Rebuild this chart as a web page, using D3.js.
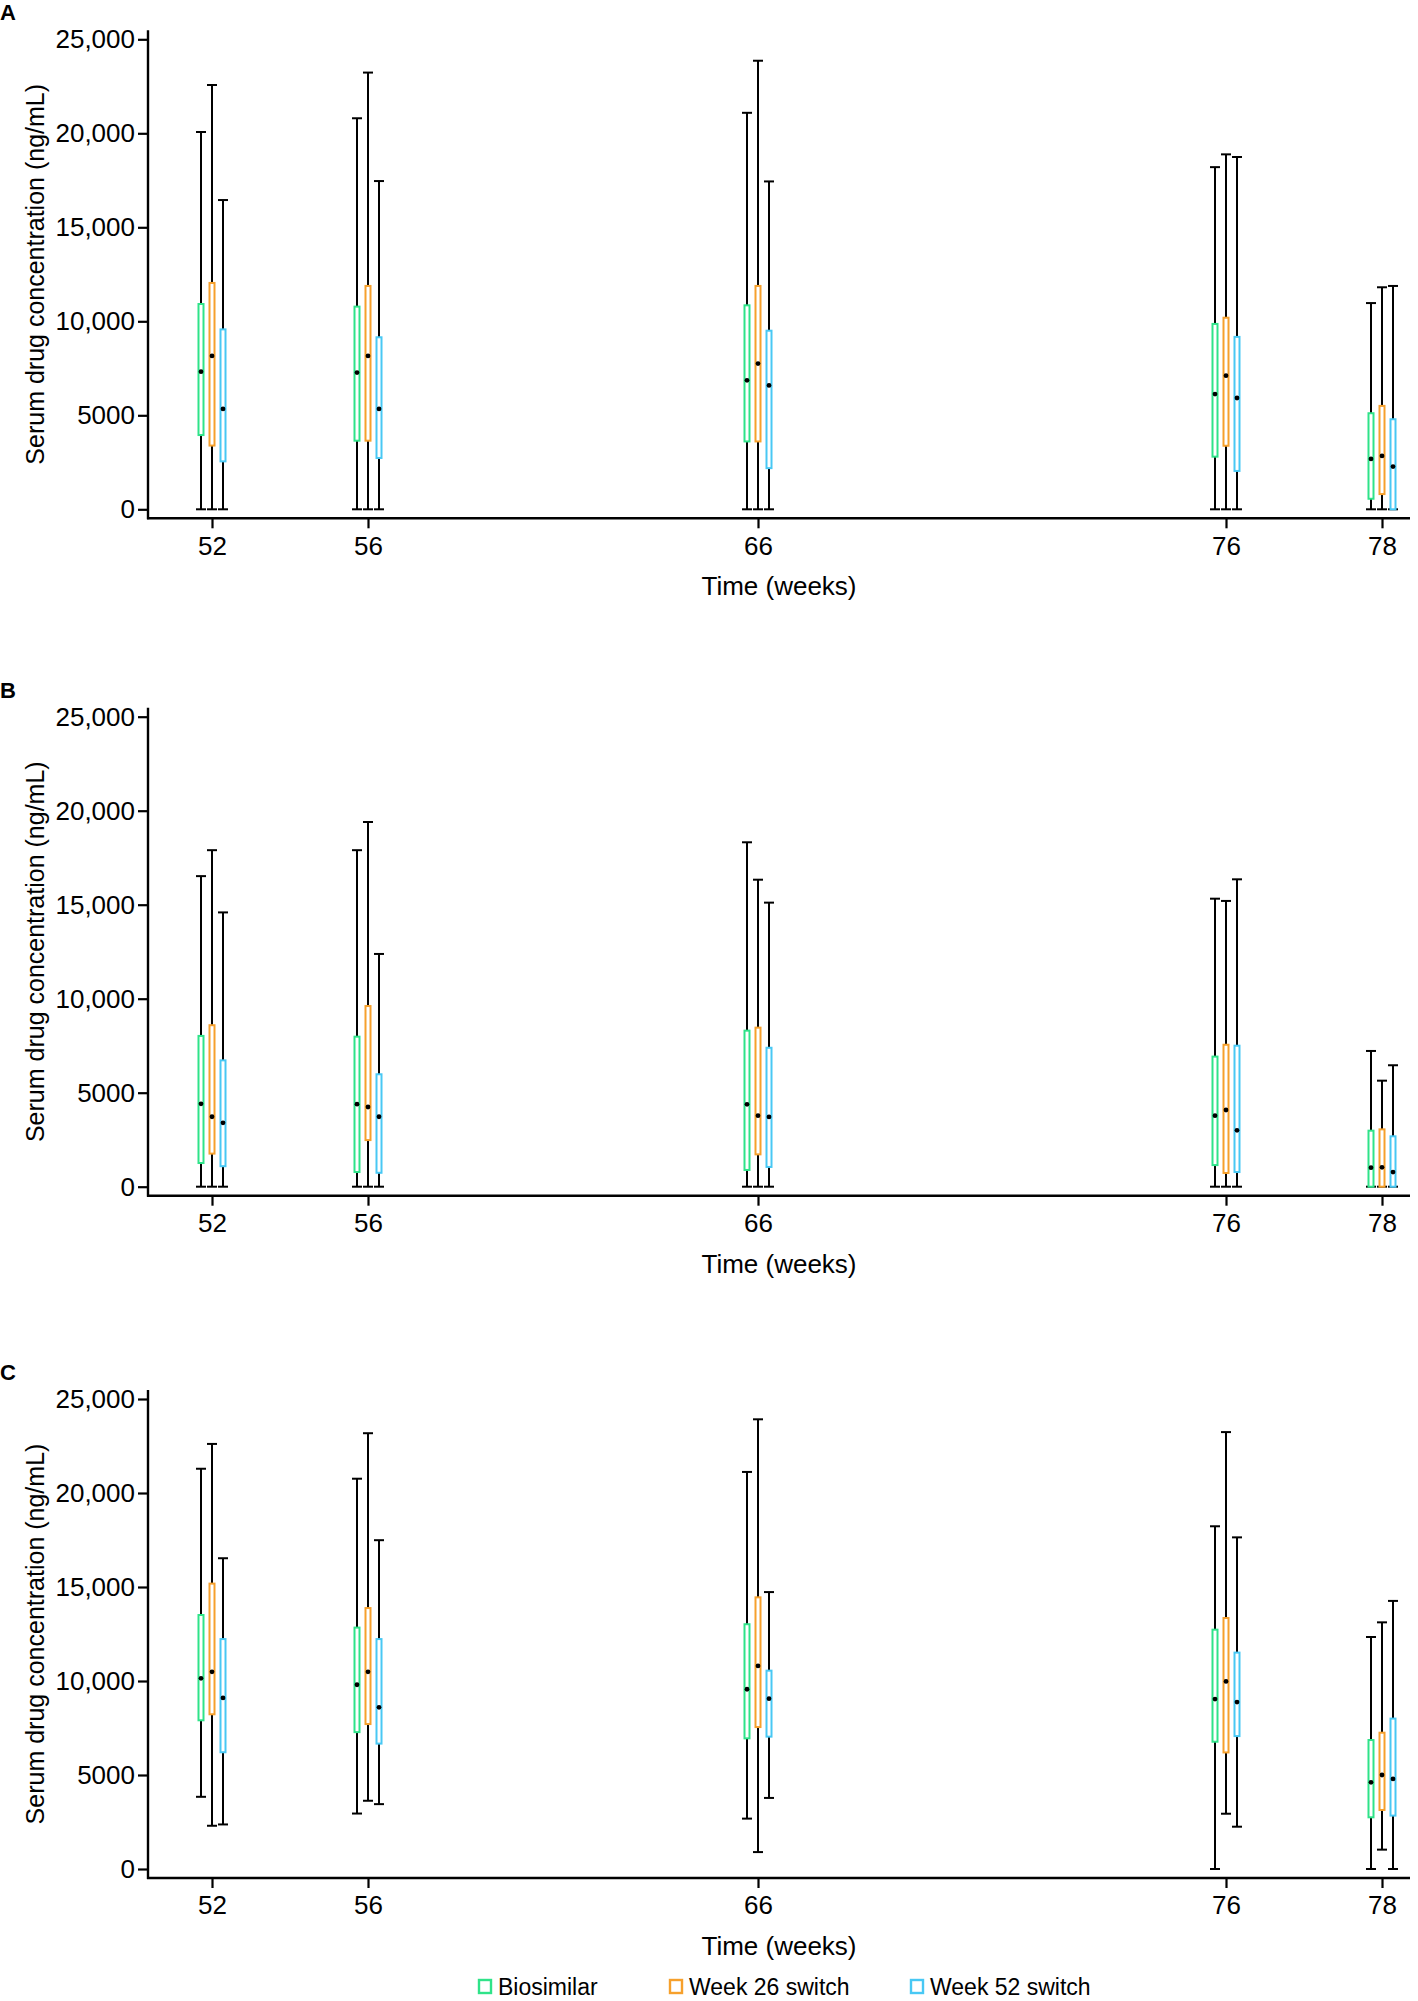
<!DOCTYPE html>
<html><head><meta charset="utf-8">
<script src="https://cdn.jsdelivr.net/npm/d3@7"></script>
<style>
body{margin:0;background:#fff}
svg{display:block}
text{font-family:"Liberation Sans",Arial,Helvetica,sans-serif;fill:#000}
</style>
</head><body>
<svg id="chart" width="1418" height="2001"></svg>
<script>
// ---------- data ----------
const weeks = [52, 56, 66, 76, 78];
const seriesNames = ["Biosimilar", "Week 26 switch", "Week 52 switch"];
const seriesColors = ["#2fe389", "#f6a02c", "#48c8f4"];
const yTicks = [0, 5000, 10000, 15000, 20000, 25000];
const panelLabels = ["A", "B", "C"];

// each entry per week: [min, Q1, median, Q3, max]  (ng/mL)
const A_biosimilar = [[0,3950,7320,10920,20070],[0,3650,7270,10780,20800],[0,3610,6860,10850,21090],[0,2800,6130,9860,18200],[0,560,2680,5110,10970]];
const A_week26     = [[0,3390,8160,12040,22570],[0,3650,8160,11880,23230],[0,3610,7750,11880,23860],[0,3380,7110,10190,18880],[0,810,2840,5500,11810]];
const A_week52     = [[0,2550,5340,9570,16450],[0,2730,5340,9150,17460],[0,2190,6590,9500,17440],[0,2040,5920,9170,18740],[0,0,2270,4790,11880]];

const B_biosimilar = [[0,1260,4410,8020,16520],[0,780,4390,7980,17900],[0,890,4380,8300,18320],[0,1150,3780,6920,15320],[0,0,1010,2980,7220]];
const B_week26     = [[0,1760,3720,8590,17900],[0,2480,4240,9610,19400],[0,1720,3780,8460,16330],[0,730,4080,7550,15200],[0,0,1030,3050,5640]];
const B_week52     = [[0,1090,3400,6720,14590],[0,740,3720,5980,12380],[0,1050,3710,7390,15110],[0,780,3000,7500,16350],[0,0,780,2680,6460]];

const C_biosimilar = [[3840,7910,10140,13510,21290],[2950,7280,9800,12840,20760],[2680,6950,9560,13020,21120],[0,6770,9040,12730,18230],[0,2750,4610,6860,12340]];
const C_week26     = [[2300,8230,10490,15180,22610],[3630,7710,10490,13880,23180],[900,7550,10800,14450,23920],[2940,6200,9980,13350,23240],[1030,3140,5000,7250,13120]];
const C_week52     = [[2370,6210,9100,12230,16530],[3450,6670,8600,12230,17490],[3780,7040,9060,10550,14730],[2250,7070,8880,11510,17640],[0,2840,4790,8000,14260]];

const panelData = [
  [A_biosimilar, A_week26, A_week52],
  [B_biosimilar, B_week26, B_week52],
  [C_biosimilar, C_week26, C_week52]
];

// ---------- layout ----------
const svg = d3.select("#chart");
const axisX = 148, axisRight = 1410;
const zeroY = [509.3, 1186.7, 1869];
const plotH = 470;

const x = d3.scaleLinear().domain(weeks).range([212, 368, 758, 1226, 1382]);
const off = d3.scalePoint().domain(seriesNames).range([-11, 11]);
const fmt = d => d >= 10000 ? d3.format(",")(d) : String(d);

panelData.forEach((groups, pi) => {
  const y0 = zeroY[pi];
  const y = d3.scaleLinear().domain([0, 25000]).range([y0, y0 - plotH]);
  const g = svg.append("g");

  // panel letter
  g.append("text").attr("x", 0).attr("y", y0 - 489)
    .attr("font-size", 22).attr("font-weight", "bold").text(panelLabels[pi]);

  // y axis
  const ya = g.append("g").attr("transform", `translate(${axisX},0)`)
    .call(d3.axisLeft(y).tickValues(yTicks).tickSize(10).tickPadding(3).tickFormat(fmt));
  ya.select(".domain").remove();
  ya.selectAll(".tick line").attr("stroke", "#000").attr("stroke-width", 2.2);
  ya.selectAll(".tick text").attr("font-size", 26).attr("font-family", "Liberation Sans, Arial, sans-serif");
  g.append("line").attr("x1", axisX).attr("x2", axisX)
    .attr("y1", y0 - plotH - 9).attr("y2", y0 + 10)
    .attr("stroke", "#000").attr("stroke-width", 2.4);

  // x axis
  const xa = g.append("g").attr("transform", `translate(0,${y0 + 9})`)
    .call(d3.axisBottom(x).tickValues(weeks).tickSize(10).tickPadding(8).tickFormat(d3.format("d")));
  xa.select(".domain").remove();
  xa.selectAll(".tick line").attr("stroke", "#000").attr("stroke-width", 2.2);
  xa.selectAll(".tick text").attr("font-size", 26).attr("font-family", "Liberation Sans, Arial, sans-serif");
  g.append("line").attr("x1", axisX - 1).attr("x2", axisRight)
    .attr("y1", y0 + 9).attr("y2", y0 + 9)
    .attr("stroke", "#000").attr("stroke-width", 2.4);

  // axis titles
  g.append("text").attr("x", (axisX + axisRight) / 2).attr("y", y0 + 86)
    .attr("text-anchor", "middle").attr("font-size", 26).text("Time (weeks)");
  g.append("text").attr("transform", `translate(44,${y0 - 235}) rotate(-90)`)
    .attr("text-anchor", "middle").attr("font-size", 25).text("Serum drug concentration (ng/mL)");

  // boxes
  groups.forEach((ser, si) => {
    const name = seriesNames[si];
    const color = seriesColors[si];
    const sg = g.append("g");
    const items = ser.map((v, wi) => ({ w: weeks[wi], min: v[0], q1: v[1], med: v[2], q3: v[3], max: v[4] }));
    const cx = d => x(d.w) + off(name);
    // whiskers
    sg.selectAll(".wh").data(items).join("line")
      .attr("x1", cx).attr("x2", cx)
      .attr("y1", d => y(d.min)).attr("y2", d => y(d.max))
      .attr("stroke", "#000").attr("stroke-width", 2);
    sg.selectAll(".capT").data(items).join("line")
      .attr("x1", d => cx(d) - 5).attr("x2", d => cx(d) + 5)
      .attr("y1", d => y(d.max)).attr("y2", d => y(d.max))
      .attr("stroke", "#000").attr("stroke-width", 2);
    sg.selectAll(".capB").data(items).join("line")
      .attr("x1", d => cx(d) - 5).attr("x2", d => cx(d) + 5)
      .attr("y1", d => y(d.min)).attr("y2", d => y(d.min))
      .attr("stroke", "#000").attr("stroke-width", 2);
    // box
    sg.selectAll(".bx").data(items).join("rect")
      .attr("x", d => cx(d) - 2.5).attr("width", 5)
      .attr("y", d => y(d.q3)).attr("height", d => y(d.q1) - y(d.q3))
      .attr("fill", "#fff").attr("stroke", color).attr("stroke-width", 2);
    // median
    sg.selectAll(".md").data(items).join("circle")
      .attr("cx", cx).attr("cy", d => y(d.med)).attr("r", 2.4)
      .attr("fill", "#000");
  });
});

// legend
const legX = [478, 669, 910];
const leg = svg.append("g");
seriesNames.forEach((n, i) => {
  leg.append("rect").attr("x", legX[i] + 1).attr("y", 1980).attr("width", 12).attr("height", 13)
    .attr("fill", "#fff").attr("stroke", seriesColors[i]).attr("stroke-width", 2.4);
  leg.append("text").attr("x", legX[i] + 20).attr("y", 1995)
    .attr("font-size", 23).text(n);
});
</script>
</body></html>
